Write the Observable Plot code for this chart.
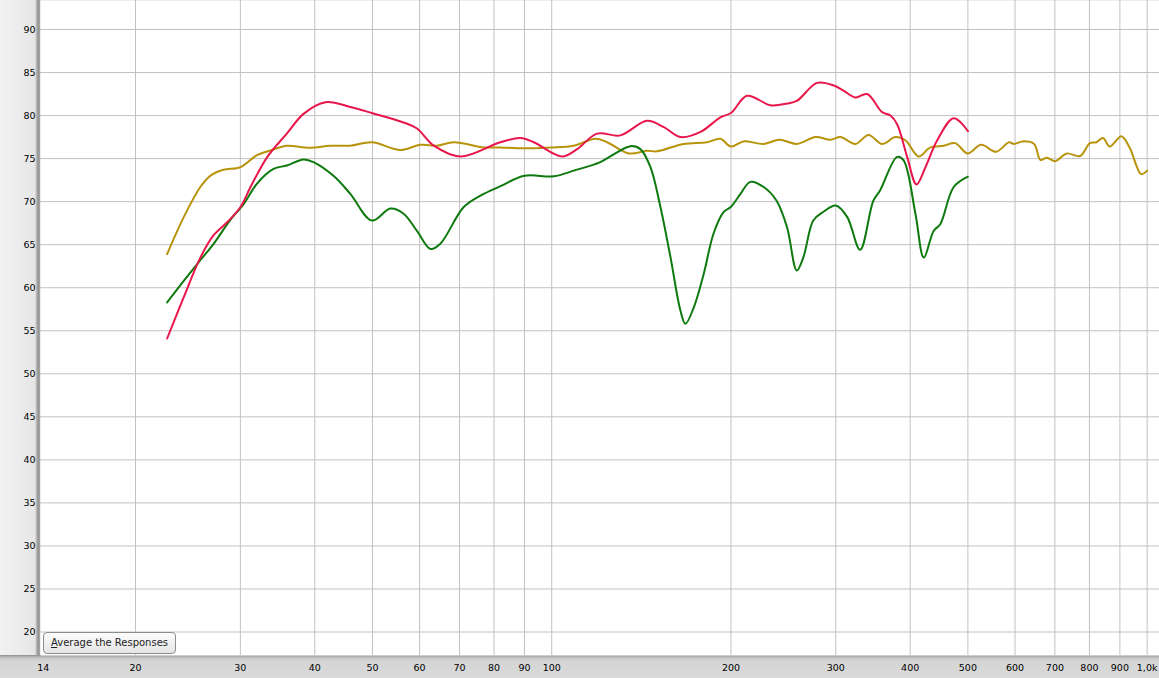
<!DOCTYPE html>
<html><head><meta charset="utf-8">
<script src="https://cdn.jsdelivr.net/npm/d3@7"></script>
<script src="https://cdn.jsdelivr.net/npm/@observablehq/plot@0.6"></script>
<style>
body{margin:0;background:#d8d8d8;}
#wrap{position:relative;width:1159px;height:678px;overflow:hidden;background:#d8d8d8;font-family:"DejaVu Sans",sans-serif;}
#leftpanel{position:absolute;left:0;top:0;width:40px;height:656px;background:linear-gradient(to right,#f2f2f2 0px,#e6e6e6 35px,#a8a8a8 37px,#909090 39px,#b4b4b4 40px);}
#bottompanel{position:absolute;left:0;top:655px;width:1159px;height:23px;background:linear-gradient(to bottom,#8c8c8c 0px,#bcbcbc 2px,#d4d4d4 5px,#dadada 23px);}
#chart{position:absolute;left:0;top:0;}
#btn{position:absolute;left:43px;top:632px;width:133px;height:22px;box-sizing:border-box;border:1px solid #8c8c8c;border-radius:4px;background:linear-gradient(to bottom,#fdfdfd,#e4e4e4);font-family:"DejaVu Sans",sans-serif;font-size:10px;color:#222;padding:0;text-align:center;line-height:19px;}
</style>
</head><body>
<div id="wrap">
<div id="leftpanel"></div>
<div id="bottompanel"></div>
<div id="chart"></div>
<div id="btn"><u>A</u>verage the Responses</div>
</div>
<script>
// Red response
const redFreq = [22.6,24.1,25.7,27.05,28.5,30,31.2,33.3,35.9,38.3,41.7,45.9,49.9,56.4,59.4,63.4,70.3,82,88.6,93.3,104.1,110.3,119.2,130.4,144.6,154.3,164.5,177.8,192,200,212.9,233,248.5,258,279,297.6,309,323.6,338.7,358.9,370.7,380.3,395.3,409.9,424.3,443.9,473.3,500];
const redDb = [54.1,58.9,63.5,66.1,67.6,69.35,71.7,75.2,77.9,80.2,81.55,81.0,80.3,79.2,78.5,76.5,75.25,76.9,77.4,76.9,75.25,76.1,77.9,77.7,79.4,78.65,77.5,78.1,79.8,80.3,82.3,81.2,81.4,81.7,83.8,83.5,82.9,82.1,82.5,80.4,80.0,79.0,75.2,72.0,74.0,77.1,79.7,78.2];
// Green response
const greenFreq = [22.6,24.1,25.7,27.05,28.8,30.4,32,34.1,35.9,38.3,39.8,43,45.9,49.9,53.6,56.4,59.4,62.6,65,71.1,75.9,82,90,100.8,108.9,120.7,127.9,135.6,140.9,146.5,152.3,158.3,164.5,167.7,173.2,180,187,194.5,200,207.5,215.6,227,238.6,248.5,258,264.7,275,285.7,300,313.6,329.6,346.8,356,380.3,390,408.2,421.6,437.9,449.5,473.3,500];
const greenDb = [58.3,60.8,63.2,65.1,67.8,69.75,72.1,73.8,74.2,74.9,74.6,73.0,70.9,67.8,69.2,68.6,66.6,64.5,65.1,69.35,70.7,71.8,73.0,72.95,73.6,74.6,75.6,76.45,76.1,74.0,69.35,63.55,57.35,55.8,57.7,61.6,66.3,68.8,69.4,70.9,72.3,71.7,70.1,67.0,62.0,63.55,67.8,68.8,69.55,68.2,64.4,70.1,71.3,75.2,74.8,68.6,63.5,66.6,67.4,71.7,72.9];
// Gold response
const goldFreq = [22.6,24.1,25.7,26.7,28.1,30,32,33.9,35.9,39.2,42.5,45.9,49.9,55.7,60.2,64.2,68.5,76.9,82,87.5,99.5,108.9,118.4,123.9,134.7,144.6,150.3,166.5,182.3,192,200,210,227,241.3,258,277.5,294,305.5,323.6,340.5,358.9,377.9,393,413.2,432.4,455.4,476.1,499.4,526.3,557.7,586.4,597.5,617.3,645.8,661.9,679.1,700.6,733.1,771.6,801.6,822,843,865.7,905,934.4,977,1000];
const goldDb = [63.9,68.2,71.7,73.0,73.7,74.0,75.4,76.0,76.5,76.25,76.5,76.5,76.9,76.0,76.6,76.5,76.9,76.3,76.3,76.2,76.3,76.5,77.3,76.9,75.6,75.9,75.85,76.7,76.9,77.3,76.4,77.0,76.7,77.2,76.7,77.5,77.2,77.5,76.7,77.75,76.7,77.5,77.1,75.25,76.3,76.5,76.8,75.6,76.6,75.8,76.9,76.7,77.0,76.7,74.85,75.1,74.7,75.6,75.3,76.8,76.9,77.4,76.4,77.6,76.3,73.2,73.6];

const xTicks = [14,20,30,40,50,60,70,80,90,100,200,300,400,500,600,700,800,900,1000];
const xGrid = [20,30,40,50,60,70,80,90,100,200,300,400,500,600,700,800,900,1000];
const yTicks = [20,25,30,35,40,45,50,55,60,65,70,75,80,85,90];
const xTickLabel = d => d === 1000 ? "1,0k" : String(d);

const toRows = (fs, vs) => fs.map((f, i) => ({f, v: vs[i]}));
const red = toRows(redFreq, redDb);
const green = toRows(greenFreq, greenDb);
const gold = toRows(goldFreq, goldDb);

const chart = Plot.plot({
  width: 1159,
  height: 678,
  marginLeft: 40,
  marginRight: 0,
  marginTop: 0,
  marginBottom: 23,
  style: {background: "transparent", fontFamily: "DejaVu Sans, sans-serif", fontSize: "9.5px", color: "#000"},
  x: {type: "log", domain: [13.85, 1049], axis: null},
  y: {domain: [17.27, 93.37], axis: null},
  marks: [
    Plot.frame({fill: "white", stroke: "none"}),
    Plot.ruleX(xGrid, {stroke: "#c2c2c2", strokeWidth: 1}),
    Plot.ruleY(yTicks, {stroke: "#c2c2c2", strokeWidth: 1}),
    Plot.text(xTicks, {x: d => d, frameAnchor: "bottom", dy: 12, text: xTickLabel, fill: "#000", lineAnchor: "middle"}),
    Plot.axisY(yTicks, {tickSize: 0, tickPadding: 5, label: null, fill: "#000"}),
    Plot.line(gold, {x: "f", y: "v", stroke: "#b8930c", strokeWidth: 2, curve: "catmull-rom"}),
    Plot.line(green, {x: "f", y: "v", stroke: "#0e7a0e", strokeWidth: 2, curve: "catmull-rom"}),
    Plot.line(red, {x: "f", y: "v", stroke: "#e8164a", strokeWidth: 2, curve: "catmull-rom"})
  ]
});
document.getElementById("chart").appendChild(chart);
</script>
</body></html>
